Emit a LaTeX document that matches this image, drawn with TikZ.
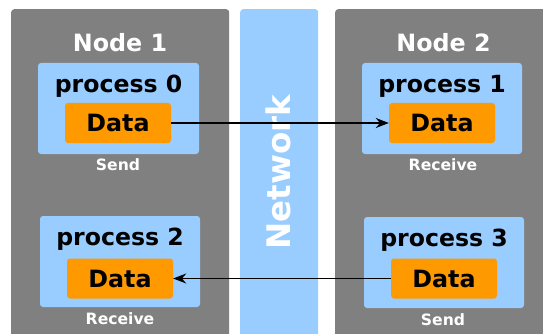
\documentclass[tikz,border=0pt]{standalone}
\usepackage{fontspec}
\setmainfont{DejaVu Sans}
\usetikzlibrary{arrows.meta}

\definecolor{panelgray}{RGB}{128,128,128}
\definecolor{netblue}{RGB}{153,204,255}
\definecolor{dataorange}{RGB}{255,153,0}

\tikzset{
  panel/.style={fill=panelgray, rounded corners=3pt, anchor=north west, inner sep=0pt},
  netpanel/.style={panel, fill=netblue},
  procbox/.style={fill=netblue, rounded corners=3pt, minimum width=160pt, minimum height=91pt, inner sep=0pt},
  databox/.style={fill=dataorange, rounded corners=3pt, minimum width=106pt, minimum height=40pt, inner sep=0pt,
    font=\fontsize{23.8}{28}\selectfont\bfseries},
  title/.style={text=white, anchor=base, inner sep=0pt, font=\fontsize{23.8}{28}\selectfont\bfseries},
  proclabel/.style={anchor=base, inner sep=0pt, font=\fontsize{23.6}{28}\selectfont\bfseries},
  caption/.style={text=white, anchor=base, inner sep=0pt, font=\fontsize{15.6}{18}\selectfont\bfseries},
  msg/.style={-{Stealth[length=13pt,width=10pt]}, line width=1.3pt}
}

\begin{document}
\begin{tikzpicture}[x=1pt,y=-1pt]
  \useasboundingbox (0,0) rectangle (543,334);
  % machines and the network between them
  \node[panel, minimum width=218pt, minimum height=340pt] (node1) at (11,9) {};
  \node[netpanel, minimum width=78pt, minimum height=340pt] (net) at (240,9) {};
  \node[panel, minimum width=230pt, minimum height=340pt] (node2) at (335,9) {};
  \node[title] (title1) at (120,52) {Node 1};
  \node[title] (title2) at (443.5,52) {Node 2};
  \node[title, rotate=90, font=\fontsize{32.5}{38}\selectfont\bfseries] (netlabel) at (290,172) {Network};

  % processes
  \node[procbox, minimum width=161pt] (p0) at (118.5,108.5) {};
  \node[procbox] (p1) at (442,108.5) {};
  \node[procbox] (p2) at (120,261.5) {};
  \node[procbox] (p3) at (444,262.5) {};
  \node[proclabel] (l0) at (118.5,93) {process 0};
  \node[proclabel] (l1) at (442,93) {process 1};
  \node[proclabel] (l2) at (120,245) {process 2};
  \node[proclabel] (l3) at (444,246) {process 3};
  \node[databox] (d0) at (118,123) {Data};
  \node[databox] (d1) at (442,123) {Data};
  \node[databox] (d2) at (120,278.5) {Data};
  \node[databox] (d3) at (444,278.5) {Data};
  \node[caption] (c0) at (118,170) {Send};
  \node[caption] (c1) at (443,170) {Receive};
  \node[caption] (c2) at (120,324) {Receive};
  \node[caption] (c3) at (443,325) {Send};

  % messages
  \draw[msg] (d0) -- (d1);
  \draw[msg] (d3) -- (d2);
\end{tikzpicture}
\end{document}
